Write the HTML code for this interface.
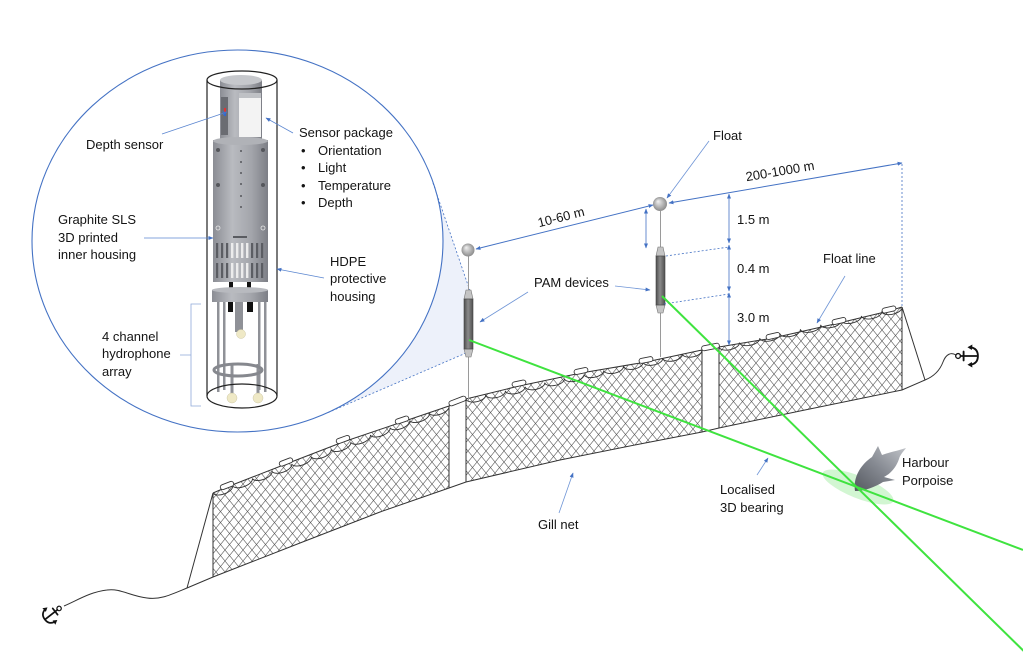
<!DOCTYPE html>
<html><head><meta charset="utf-8"><style>
html,body{margin:0;padding:0;background:#fff;}
svg{display:block;}
text{font-family:"Liberation Sans",Arial,sans-serif;font-size:13px;fill:#141414;}
</style></head><body>
<svg width="1023" height="663" viewBox="0 0 1023 663" xmlns="http://www.w3.org/2000/svg">
<defs>
<marker id="ah" viewBox="0 0 10 10" refX="9" refY="5" markerWidth="5" markerHeight="5" orient="auto-start-reverse" markerUnits="userSpaceOnUse"><path d="M0,1 L10,5 L0,9 z" fill="#4472c4"/></marker>
<pattern id="mesh" width="9" height="11" patternUnits="userSpaceOnUse"><path d="M-1,-1.22 L10,12.22 M10,-1.22 L-1,12.22" stroke="#5a5a5a" stroke-width="0.6" fill="none"/></pattern>
<radialGradient id="ball" cx="50%" cy="50%" r="55%" fx="35%" fy="30%"><stop offset="0" stop-color="#f2f2f2"/><stop offset="1" stop-color="#858585"/></radialGradient>
<linearGradient id="dev" x1="0" x2="1" y1="0" y2="0"><stop offset="0" stop-color="#4e4e4e"/><stop offset="0.45" stop-color="#8a8a8a"/><stop offset="1" stop-color="#505050"/></linearGradient>
<linearGradient id="body" x1="0" x2="1" y1="0" y2="0"><stop offset="0" stop-color="#8b8d94"/><stop offset="0.35" stop-color="#b9bbc0"/><stop offset="0.7" stop-color="#a3a5ab"/><stop offset="1" stop-color="#7d7f86"/></linearGradient>
<linearGradient id="porp" x1="0" x2="1" y1="1" y2="0"><stop offset="0" stop-color="#555960"/><stop offset="0.5" stop-color="#868a92"/><stop offset="1" stop-color="#c2c5ca"/></linearGradient>
<g id="anc">
<circle cx="0" cy="-9" r="2.2" fill="none" stroke="#111" stroke-width="1.2"/>
<path d="M0,-6.8 V9 M-4,-4 H4 M-8,2 Q-7,9 0,9 Q7,9 8,2" fill="none" stroke="#111" stroke-width="1.7" stroke-linecap="round"/>
<path d="M-10.5,4 L-8,-0.5 L-5.5,3.5 Z M10.5,4 L8,-0.5 L5.5,3.5 Z" fill="#111"/>
</g>
</defs>

<!-- magnifier shading -->
<path d="M433,183 L470,291 L466,353 L327,413 L237,241 Z" fill="#edf1fa"/>
<ellipse cx="237.5" cy="241" rx="205.5" ry="191" fill="#fff" stroke="#4472c4" stroke-width="1.1"/>
<path d="M433,183 L470,291 M466,353 L327,413" stroke="#4472c4" stroke-width="0.8" stroke-dasharray="2,2" fill="none"/>

<!-- device in circle -->
<g>
<rect x="220" y="80" width="42" height="60" fill="url(#body)"/>
<ellipse cx="241" cy="80" rx="21" ry="5" fill="#c6c8cc"/>
<rect x="221" y="97" width="7" height="38" fill="#6a6c72"/>
<rect x="224" y="108" width="2" height="4" fill="#d33"/>
<rect x="224" y="113" width="2" height="3" fill="#36c"/>
<rect x="239" y="93" width="22" height="44" fill="#f3f3f3"/>
<rect x="239" y="93" width="22" height="5" fill="#bfc1c5"/>
<rect x="213" y="140" width="55" height="100" fill="url(#body)"/>
<ellipse cx="240.5" cy="141" rx="27.5" ry="4" fill="#b0b2b7"/>
<g fill="#55575c">
<circle cx="241" cy="151" r="1"/><circle cx="241" cy="162" r="1"/><circle cx="241" cy="173" r="1"/><circle cx="241" cy="184" r="1"/><circle cx="241" cy="196" r="1"/><circle cx="241" cy="207" r="1"/>
<circle cx="218" cy="150" r="2"/><circle cx="263" cy="150" r="2"/><circle cx="218" cy="185" r="2"/><circle cx="263" cy="185" r="2"/>
</g>
<circle cx="218" cy="228" r="2" fill="none" stroke="#e8e8e8" stroke-width="0.8"/>
<circle cx="263" cy="228" r="2" fill="none" stroke="#e8e8e8" stroke-width="0.8"/>
<rect x="233" y="236" width="14" height="2" fill="#5a5c61"/>
<rect x="213" y="240" width="55" height="42" fill="url(#body)"/>
<g fill="#5b5d63">
<rect x="216" y="243" width="2.2" height="15"/><rect x="221" y="243" width="2.2" height="15"/><rect x="226" y="243" width="2.2" height="15"/><rect x="251" y="243" width="2.2" height="15"/><rect x="256" y="243" width="2.2" height="15"/><rect x="261" y="243" width="2.2" height="15"/>
<rect x="216" y="263" width="2.2" height="15"/><rect x="221" y="263" width="2.2" height="15"/><rect x="226" y="263" width="2.2" height="15"/><rect x="251" y="263" width="2.2" height="15"/><rect x="256" y="263" width="2.2" height="15"/><rect x="261" y="263" width="2.2" height="15"/>
</g>
<g fill="#ececec">
<rect x="231" y="243" width="2.4" height="15"/><rect x="236" y="243" width="2.4" height="15"/><rect x="241" y="243" width="2.4" height="15"/><rect x="246" y="243" width="2.4" height="15"/>
<rect x="231" y="263" width="2.4" height="15"/><rect x="236" y="263" width="2.4" height="15"/><rect x="241" y="263" width="2.4" height="15"/><rect x="246" y="263" width="2.4" height="15"/>
</g>
<rect x="229" y="282" width="4" height="6" fill="#111"/><rect x="247" y="282" width="4" height="6" fill="#111"/>
<rect x="212" y="290" width="56" height="12" fill="url(#body)"/>
<ellipse cx="240" cy="290" rx="28" ry="3" fill="#b8babf"/>
<g fill="#8f9197">
<rect x="217" y="302" width="2.5" height="90"/><rect x="223" y="302" width="2.5" height="88"/><rect x="258" y="302" width="2.5" height="88"/><rect x="264" y="302" width="2.5" height="90"/>
<rect x="235" y="302" width="8" height="30"/>
<rect x="230.5" y="364" width="3" height="30"/><rect x="256.5" y="364" width="3" height="30"/>
</g>
<rect x="228" y="302" width="5" height="10" fill="#111"/><rect x="247" y="302" width="6" height="10" fill="#111"/>
<ellipse cx="238" cy="370" rx="24" ry="6" fill="none" stroke="#86888e" stroke-width="3"/>
<g fill="#efe9c6" stroke="#cfc9a6" stroke-width="0.5">
<circle cx="241" cy="334" r="4.5"/><circle cx="232" cy="398" r="5"/><circle cx="258" cy="398" r="5"/>
</g>
<path d="M207,80 V396 M277,80 V396" stroke="#222" stroke-width="1.2"/>
<ellipse cx="242" cy="80" rx="35" ry="9" fill="none" stroke="#222" stroke-width="1.2"/>
<ellipse cx="242" cy="396" rx="35" ry="12" fill="none" stroke="#222" stroke-width="1.2"/>
</g>

<!-- circle labels -->
<g stroke="#5b86d0" stroke-width="0.8" fill="none">
<path d="M162,134 L227,112" marker-end="url(#ah)"/>
<path d="M293,133 L266,118" marker-end="url(#ah)"/>
<path d="M144,238 L213,238" marker-end="url(#ah)"/>
<path d="M324,278 L277,269" marker-end="url(#ah)"/>
<path d="M201,304 H191 V406 H201 M180,355 H191" stroke="#8fa9d9"/>
</g>
<text x="86" y="149">Depth sensor</text>
<text x="299" y="137">Sensor package</text>
<text x="301" y="155">•</text><text x="318" y="155">Orientation</text>
<text x="301" y="172">•</text><text x="318" y="172">Light</text>
<text x="301" y="190">•</text><text x="318" y="190">Temperature</text>
<text x="301" y="207">•</text><text x="318" y="207">Depth</text>
<text x="58" y="224">Graphite SLS</text>
<text x="58" y="242">3D printed</text>
<text x="58" y="259">inner housing</text>
<text x="330" y="266">HDPE</text>
<text x="330" y="283">protective</text>
<text x="330" y="301">housing</text>
<text x="102" y="341">4 channel</text>
<text x="102" y="358">hydrophone</text>
<text x="102" y="376">array</text>

<!-- net panels mesh -->
<path d="M213,493 L227,487 L286,464 L343,442 L402,422 L449,406 L449,488 L380,512 L300,543 L213,577 Z" fill="url(#mesh)"/>
<path d="M466,399 L519,386 L581,373 L646,362 L702,350 L702,432 L640,444 L560,460 L466,482 Z" fill="url(#mesh)"/>
<path d="M719,347 L773,338 L839,323 L889,311 L902,307 L902,390 L800,411 L719,428 Z" fill="url(#mesh)"/>

<g fill="none" stroke="#333" stroke-width="1">
<path d="M213,493 L227,487 L286,464 L343,442 L402,422 L449,406 L466,399 L519,386 L581,373 L646,362 L702,350 L719,347 L773,338 L839,323 L889,311 L902,307"/>
<path d="M64,606 C78,600 90,592 107,590 C120,588 130,596 147,598 C160,600 170,595 187,588 L213,577 L300,543 L380,512 L449,488 L466,482 L560,460 L640,444 L702,432 L719,428 L800,411 L902,390 L925,380 C935,376 940,370 943,362 C946,354 951,352 956,355"/>
<path d="M213,493 L187,588 M902,307 L925,380"/>
<path d="M213,493 V577 M449,406 V488 M466,399 V482 M702,350 V432 M719,347 V428 M902,307 V390"/>
<path stroke-width="0.9" d="M213,493 a10.5,5 -20.2 0 0 19.67,-7.25 a10.5,5 -20.2 0 0 19.67,-7.25 a10.5,5 -20.2 0 0 19.67,-7.25 a10.5,5 -20.2 0 0 19.67,-7.25 a10.5,5 -20.2 0 0 19.67,-7.25 a10.5,5 -20.2 0 0 19.67,-7.25 a10.5,5 -20.2 0 0 19.67,-7.25 a10.5,5 -20.2 0 0 19.67,-7.25 a10.5,5 -20.2 0 0 19.67,-7.25 a10.5,5 -20.2 0 0 19.67,-7.25 a10.5,5 -20.2 0 0 19.67,-7.25 a10.5,5 -20.2 0 0 19.67,-7.25"/>
<path stroke-width="0.9" d="M466,399 a10.05,5 -11.7 0 0 19.67,-4.08 a10.05,5 -11.7 0 0 19.67,-4.08 a10.05,5 -11.7 0 0 19.67,-4.08 a10.05,5 -11.7 0 0 19.67,-4.08 a10.05,5 -11.7 0 0 19.67,-4.08 a10.05,5 -11.7 0 0 19.67,-4.08 a10.05,5 -11.7 0 0 19.67,-4.08 a10.05,5 -11.7 0 0 19.67,-4.08 a10.05,5 -11.7 0 0 19.67,-4.08 a10.05,5 -11.7 0 0 19.67,-4.08 a10.05,5 -11.7 0 0 19.67,-4.08 a10.05,5 -11.7 0 0 19.67,-4.08"/>
<path stroke-width="0.9" d="M719,347 a10.4,5 -12.3 0 0 20.33,-4.44 a10.4,5 -12.3 0 0 20.33,-4.44 a10.4,5 -12.3 0 0 20.33,-4.44 a10.4,5 -12.3 0 0 20.33,-4.44 a10.4,5 -12.3 0 0 20.33,-4.44 a10.4,5 -12.3 0 0 20.33,-4.44 a10.4,5 -12.3 0 0 20.33,-4.44 a10.4,5 -12.3 0 0 20.33,-4.44 a10.4,5 -12.3 0 0 20.33,-4.44"/>
</g>
<g fill="#fff" stroke="#333" stroke-width="0.9">
<rect x="-7" y="-2.5" width="14" height="5" rx="2.5" transform="translate(227,485.5) rotate(-21)"/>
<rect x="-7" y="-2.5" width="14" height="5" rx="2.5" transform="translate(286,462) rotate(-21)"/>
<rect x="-7" y="-2.5" width="14" height="5" rx="2.5" transform="translate(343,439.5) rotate(-20)"/>
<rect x="-7" y="-2.5" width="14" height="5" rx="2.5" transform="translate(402,420) rotate(-19)"/>
<rect x="-9" y="-2.5" width="18" height="5" rx="2.5" transform="translate(457.5,401) rotate(-21)"/>
<rect x="-7" y="-2.5" width="14" height="5" rx="2.5" transform="translate(519,383.5) rotate(-12)"/>
<rect x="-7" y="-2.5" width="14" height="5" rx="2.5" transform="translate(581,371) rotate(-12)"/>
<rect x="-7" y="-2.5" width="14" height="5" rx="2.5" transform="translate(646,360) rotate(-11)"/>
<rect x="-9" y="-2.5" width="18" height="5" rx="2.5" transform="translate(710.5,347) rotate(-11)"/>
<rect x="-7" y="-2.5" width="14" height="5" rx="2.5" transform="translate(773,336) rotate(-13)"/>
<rect x="-7" y="-2.5" width="14" height="5" rx="2.5" transform="translate(839,321) rotate(-13)"/>
<rect x="-7" y="-2.5" width="14" height="5" rx="2.5" transform="translate(889,309.5) rotate(-13)"/>
</g>

<use href="#anc" transform="translate(52,614) rotate(52)"/>
<use href="#anc" transform="translate(968,356) rotate(-90) scale(1.1)"/>

<g stroke="#9a9a9a" stroke-width="1" fill="none">
<path d="M468.5,256 V290 M468.5,357 V401 M660.5,211 V247 M660.5,313 V357"/>
</g>
<g stroke="#777" stroke-width="0.6" fill="#c4c4c4">
<path d="M466,290 L471,290 L473,299 L464,299 Z"/>
<path d="M464,349 L473,349 L471,357 L466,357 Z"/>
<path d="M658,247 L663,247 L665,256 L656,256 Z"/>
<path d="M656,305 L665,305 L663,313 L658,313 Z"/>
</g>
<rect x="464" y="299" width="9" height="50" fill="url(#dev)" stroke="#444" stroke-width="0.6"/>
<rect x="656" y="256" width="9" height="49" fill="url(#dev)" stroke="#444" stroke-width="0.6"/>
<circle cx="468" cy="250" r="6.5" fill="url(#ball)"/>
<circle cx="660" cy="204" r="7" fill="url(#ball)"/>

<g stroke="#4472c4" stroke-width="1" fill="none">
<path d="M476,249 L653,205" marker-start="url(#ah)" marker-end="url(#ah)"/>
<path d="M669,203 L902,163" marker-start="url(#ah)" marker-end="url(#ah)"/>
<path d="M646,209 V248" marker-start="url(#ah)" marker-end="url(#ah)" stroke-width="0.8"/>
<path d="M729,194 V243" marker-start="url(#ah)" marker-end="url(#ah)" stroke-width="0.8"/>
<path d="M729,245 V291" marker-start="url(#ah)" marker-end="url(#ah)" stroke-width="0.8"/>
<path d="M729,293 V345" marker-start="url(#ah)" marker-end="url(#ah)" stroke-width="0.8"/>
<path d="M666,256 L729,247 M664,304 L729,294 M902,164 V307" stroke-dasharray="2,2" stroke-width="0.8"/>
</g>
<g stroke="#6f95d6" stroke-width="0.8" fill="none">
<path d="M709,141 L667,198" marker-end="url(#ah)"/>
<path d="M528,292 L480,322" marker-end="url(#ah)"/>
<path d="M615,286 L650,290" marker-end="url(#ah)"/>
<path d="M845,276 L817,323" marker-end="url(#ah)"/>
<path d="M757,475 L768,458" marker-end="url(#ah)"/>
<path d="M559,513 L573,473" marker-end="url(#ah)"/>
</g>

<ellipse cx="858" cy="487" rx="38" ry="11" transform="rotate(22 858 487)" fill="#9cec9c" opacity="0.45"/>
<path d="M855,491 C853,478 860,465 872,457 L878,446 L882,455 C890,452 897,451 906,448 C903,452 900,455 899,459 C896,468 890,474 884,477 L895,480 L883,482 C875,487 865,491 855,491 Z" fill="url(#porp)"/>
<g stroke="#3fe33f" stroke-width="2" fill="none">
<path d="M662,296 L1040,667"/>
<path d="M469,340 L1023,550"/>
</g>

<text x="713" y="140">Float</text>
<text x="561" y="221.5" text-anchor="middle" transform="rotate(-14.2 561 217)">10-60 m</text>
<text x="780" y="175.5" text-anchor="middle" transform="rotate(-9.7 780 171)">200-1000 m</text>
<text x="737" y="224">1.5 m</text>
<text x="737" y="273">0.4 m</text>
<text x="737" y="322">3.0 m</text>
<text x="534" y="287">PAM devices</text>
<text x="823" y="263">Float line</text>
<text x="902" y="467">Harbour</text>
<text x="902" y="485">Porpoise</text>
<text x="720" y="494">Localised</text>
<text x="720" y="512">3D bearing</text>
<text x="538" y="529">Gill net</text>
</svg>
</body></html>
